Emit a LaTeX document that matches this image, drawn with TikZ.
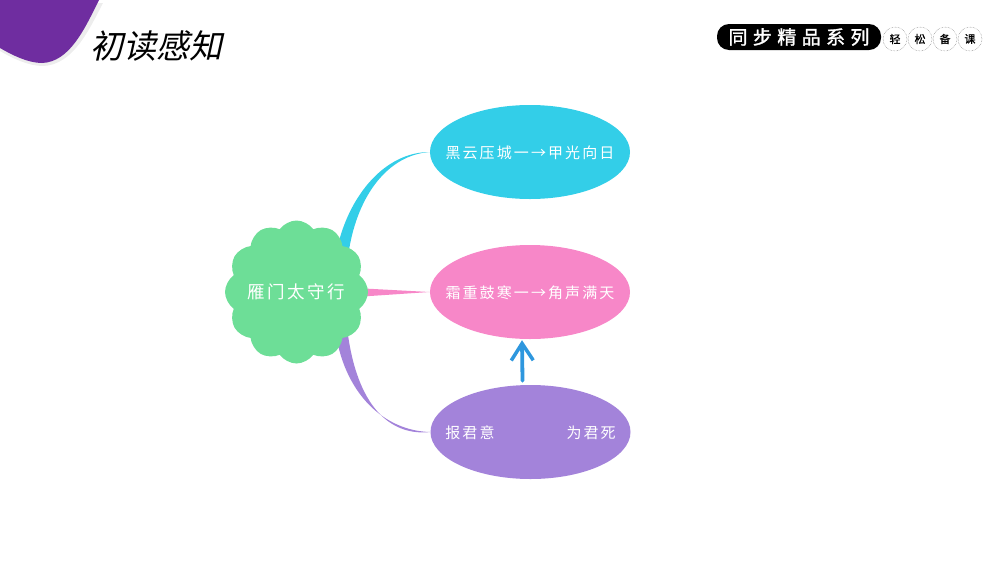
\documentclass[tikz,border=0pt]{standalone}
\usepackage{fontspec}
\usetikzlibrary{shapes.geometric,shapes.symbols,arrows.meta}
\newfontfamily\cjk{Noto Sans CJK SC}
\newfontfamily\cjkbody[LetterSpace=14]{Noto Sans CJK SC}
\newfontfamily\cjkbold[FakeBold=1.5]{Noto Sans CJK SC}
\newfontfamily\cjkseal[FakeBold=.6]{Noto Sans CJK SC}
\newfontfamily\cjktitle[FakeSlant=.22]{Noto Sans CJK SC}
\newcommand{\ovaltext}[1]{\smash{\raisebox{-6.2pt}{\makebox[0pt]{#1}}}}
\definecolor{cqing}{HTML}{33CEE8}
\definecolor{cfen}{HTML}{F787C8}
\definecolor{czi}{HTML}{A383DA}
\definecolor{clv}{HTML}{6DDE97}
\definecolor{cjiao}{HTML}{6F2DA0}
\definecolor{cjian}{HTML}{2E97DE}
\tikzset{>={Straight Barb[length=17pt,width=22pt,line width=3.5pt]},
	oval/.style={ellipse, fill=#1, text=white, minimum width=200pt, minimum height=94pt, inner sep=0pt, font=\cjkbody\fontsize{15}{15}\selectfont},
	seal/.style={circle, draw=gray, densely dotted, line width=.5pt, minimum size=24pt, inner sep=0pt, font=\cjkseal\fontsize{11}{11}\selectfont}
}
\begin{document}
\begin{tikzpicture}[x=1pt, y=-1pt]
    \useasboundingbox(0, 0)rectangle(1000, 563);
    \fill[black!7](0, 3)--(103, 3)..controls(89, 30)and(73, 65)..(43, 66)..controls(28, 66)and(12, 58)..(0, 51)--cycle;
    \fill[cjiao](0, 0)--(99, 0)..controls(85, 28)and(70, 62)..(42, 63)..controls(28, 63)and(12, 55)..(0, 48)--cycle;
    \node[font=\cjktitle\fontsize{33}{33}\selectfont](title)at(156, 46){初读感知};
    \node[fill=black, rounded corners=12pt, minimum width=164pt, minimum height=26pt, inner sep=0pt, text=white, font=\cjkbold\fontsize{19}{19}\selectfont](series)at(799, 37){同\hspace{5.4pt}步\hspace{5.4pt}精\hspace{5.4pt}品\hspace{5.4pt}系\hspace{5.4pt}列};
    \node[seal](sa)at(895, 39){轻};
    \node[seal](sb)at(920, 39){松};
    \node[seal](sc)at(945, 39){备};
    \node[seal](sd)at(970, 39){课};
    \node[oval=cqing](yun)at(530, 152){\ovaltext{黑云压城一→甲光向日}};
    \node[oval=cfen](shuang)at(530, 292){\ovaltext{霜重鼓寒一→角声满天}};
    \node[oval=czi](jun)at(530.5, 432){\ovaltext{报君意\hspace{72pt}为君死}};
    % tapered branches
    \fill[cqing](338, 245)..controls(350, 195)and(385, 152)..(yun.west)..controls(388, 155)and(358, 195)..(349, 250)--cycle;
    \fill[cfen](355, 288)--(shuang.west)--(355, 297)--cycle;
    \fill[czi](336, 335)..controls(346, 395)and(385, 431)..(jun.west)..controls(394, 436)and(359, 412)..(348, 335)--cycle;
    \node[cloud, cloud puffs=12, cloud puff arc=110, aspect=1, fill=clv, text=white, minimum width=143pt, minimum height=143pt, inner sep=0pt, font=\cjkbody\fontsize{17.5}{17.5}\selectfont](hub)at(296.5, 292){\makebox[0pt]{雁门太守行}};
    \draw[->, cjian, line width=3.8pt, line cap=round]([xshift=-8pt, yshift=4pt]jun.north)--([xshift=-8pt, yshift=-1pt]shuang.south);
\end{tikzpicture}
\end{document}
